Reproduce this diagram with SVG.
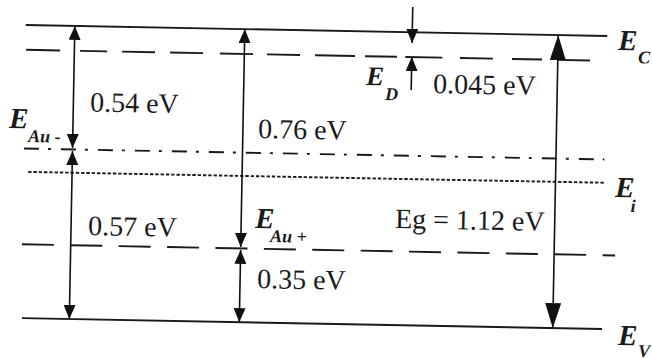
<svg xmlns="http://www.w3.org/2000/svg" width="652" height="358" viewBox="0 0 652 358">
<style>
.lv{stroke:#1a1a1a;stroke-width:1.9;fill:none}
.d1{stroke-dasharray:32 16.4}
.dd{stroke-dasharray:15 9 3 10}
.dt{stroke-dasharray:3.4 1.9}
.ar{stroke:#111;stroke-width:1.6;fill:none}
.v{font-family:"Liberation Serif","Times New Roman",serif;font-size:28px;fill:#1a1a1a}
.lb{font-family:"Liberation Serif","Times New Roman",serif;font-weight:bold;font-style:italic;fill:#1a1a1a}
.big{font-size:29px}
.sub{font-size:18px}
</style>
<defs>
<marker id="ah" viewBox="0 0 14 12" refX="14" refY="6" markerWidth="14" markerHeight="12" orient="auto-start-reverse" markerUnits="userSpaceOnUse"><path d="M0,0 L14,6 L0,12 z" fill="#111"/></marker>
<marker id="ahb" viewBox="0 0 25 16" refX="25" refY="8" markerWidth="25" markerHeight="16" orient="auto-start-reverse" markerUnits="userSpaceOnUse"><path d="M0,0 L25,8 L0,16 z" fill="#111"/></marker>
</defs>
<rect width="652" height="358" fill="#ffffff"/>
<g transform="rotate(1.08 326 179)">
<g id="level-Ec">
<line class="lv" x1="23" y1="30.7" x2="604.5" y2="30.7"/>
<text class="lb big" x="615.6" y="44.5">E</text>
<text class="lb sub" x="635.8" y="57.5">C</text>
</g>
<g id="level-Ed">
<path class="lv" d="M23.7,55.5H57.7M77.7,55.5H104.7M119.7,55.5H152.7M167.7,55.5H200.7M217.7,55.5H250.7M264.7,55.5H297.7M312.7,55.5H352.7M362.7,55.5H394.7M403,55.5H440M457.7,55.5H490.7M509.7,55.5H539.7M555.7,55.5H587.7"/>
<text class="lb" style="font-size:27px" x="364.2" y="84.2">E</text>
<text class="lb sub" x="383.5" y="98.9">D</text>
</g>
<g id="level-EAu-minus">
<line class="lv dd" x1="23.4" y1="154.2" x2="604" y2="154.2"/>
<text class="lb big" x="8" y="134">E</text>
<text class="lb sub" x="27.3" y="147.6">Au -</text>
</g>
<g id="level-Ei">
<line class="lv dt" x1="28" y1="177.5" x2="605" y2="177.5"/>
<text class="lb big" x="615.3" y="191.6">E</text>
<text class="lb sub" x="631" y="206.3">i</text>
</g>
<g id="level-EAu-plus">
<line class="lv d1" x1="23.2" y1="250" x2="616.5" y2="250"/>
<text class="lb big" x="255.9" y="229.3">E</text>
<text class="lb sub" x="271.2" y="243">Au +</text>
</g>
<g id="level-Ev">
<line class="lv" x1="24.6" y1="323.8" x2="604.8" y2="323.8"/>
<text class="lb big" x="621.1" y="339.5">E</text>
<text class="lb sub" x="641.4" y="351.1">V</text>
</g>
<g id="connectors">
<line class="ar" x1="72" y1="30.7" x2="72" y2="152.7" marker-start="url(#ah)" marker-end="url(#ah)"/>
<line class="ar" x1="72" y1="155.8" x2="72" y2="323.8" marker-start="url(#ah)" marker-end="url(#ah)"/>
<line class="ar" x1="242" y1="30.7" x2="242" y2="248.5" marker-start="url(#ah)" marker-end="url(#ah)"/>
<line class="ar" x1="242" y1="251.5" x2="242" y2="323.8" marker-start="url(#ah)" marker-end="url(#ah)"/>
<line class="ar" x1="555.5" y1="30.7" x2="555.5" y2="323.8" marker-start="url(#ahb)" marker-end="url(#ahb)"/>
<line class="ar" x1="409.5" y1="5.4" x2="409.5" y2="41.4" marker-end="url(#ah)"/>
<line class="ar" x1="409.5" y1="88.4" x2="409.5" y2="55.4" marker-end="url(#ah)"/>
</g>
<g id="values">
<text class="v" x="88.7" y="115.9">0.54 eV</text>
<text class="v" x="257.2" y="139.3">0.76 eV</text>
<text class="v" x="431.4" y="91">0.045 eV</text>
<text class="v" x="395.9" y="226.7">Eg = 1.12 eV</text>
<text class="v" x="89.1" y="239.5">0.57 eV</text>
<text class="v" x="259" y="289.3">0.35 eV</text>
</g>
</g>
</svg>
